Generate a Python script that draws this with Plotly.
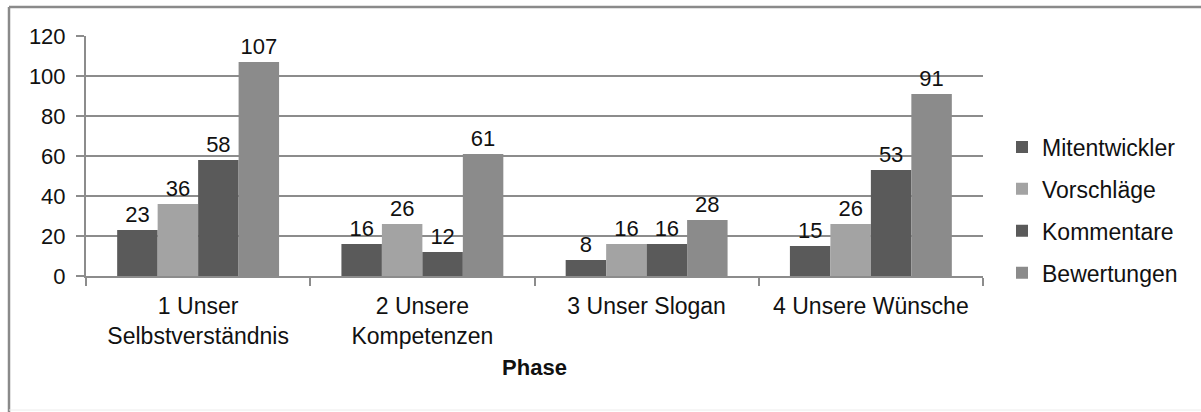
import plotly.graph_objects as go

categories = ["1 Unser<br>Selbstverständnis", "2 Unsere<br>Kompetenzen",
              "3 Unser Slogan", "4 Unsere Wünsche"]
series_names = ["Mitentwickler", "Vorschläge", "Kommentare", "Bewertungen"]
mitentwickler = [23, 16, 8, 15]
vorschlaege = [36, 26, 16, 26]
kommentare = [58, 12, 16, 53]
bewertungen = [107, 61, 28, 91]
y_ticks = [0, 20, 40, 60, 80, 100, 120]

values = [mitentwickler, vorschlaege, kommentare, bewertungen]
colors = ["#5a5a5a", "#a3a3a3", "#5a5a5a", "#8b8b8b"]

FONT = "Liberation Sans, Arial, sans-serif"

fig = go.Figure()
for name, vals, col in zip(series_names, values, colors):
    fig.add_trace(go.Bar(
        x=categories, y=vals, name=name, legendgroup=name,
        marker=dict(color=col, line=dict(width=0)),
        text=[str(v) for v in vals], textposition="outside",
        textfont=dict(size=22, color="#111111", family=FONT),
        cliponaxis=False,
    ))

# plot area in page pixels: x 86..983, y 36..276
L, R, T, B = 86, 983, 36, 276
PW, PH = R - L, B - T

def px(x):
    return (x - L) / PW

def py(y):
    return (B - y) / PH

grid_col = "#8c8c8c"
fig.update_layout(
    width=1201, height=412,
    margin=dict(l=L, r=1201 - R, t=T, b=412 - B),
    paper_bgcolor="white", plot_bgcolor="white",
    font=dict(family=FONT, size=22, color="#111111"),
    barmode="group", bargap=0.278, bargroupgap=0,
    legend=dict(x=px(1002), y=py(210), xanchor="left", yanchor="middle",
                font=dict(size=23), traceorder="grouped", tracegroupgap=9,
                itemwidth=30),
    showlegend=True,
    xaxis=dict(
        showline=True, linecolor=grid_col, linewidth=2,
        ticks="outside", tickson="boundaries", ticklen=8, tickcolor=grid_col,
        tickwidth=1.5, tickfont=dict(size=23), ticklabelstandoff=8,
        title=dict(text="<b>Phase</b>", font=dict(size=22), standoff=12),
        showgrid=False,
    ),
    yaxis=dict(
        range=[0, 120], tickvals=y_ticks,
        showline=True, linecolor=grid_col, linewidth=2,
        ticks="outside", ticklen=8, tickcolor=grid_col, tickwidth=1.5,
        showgrid=True, gridcolor=grid_col, gridwidth=2,
        zeroline=False, tickfont=dict(size=22), ticklabelstandoff=6,
    ),
    shapes=[
        dict(type="line", xref="paper", yref="paper",
             x0=px(9), x1=px(1201), y0=py(7), y1=py(7),
             line=dict(color="#8a8a8a", width=2.5)),
        dict(type="line", xref="paper", yref="paper",
             x0=px(9), x1=px(9), y0=py(7), y1=py(412),
             line=dict(color="#8a8a8a", width=2.5)),
        dict(type="line", xref="paper", yref="paper",
             x0=px(9), x1=px(1201), y0=py(410), y1=py(410),
             line=dict(color="#ececec", width=1)),
    ],
)

fig.write_html("out.html",
               config={"displayModeBar": False},
               post_script="document.body.style.margin='0px';"
                           "document.body.style.overflow='hidden';")
